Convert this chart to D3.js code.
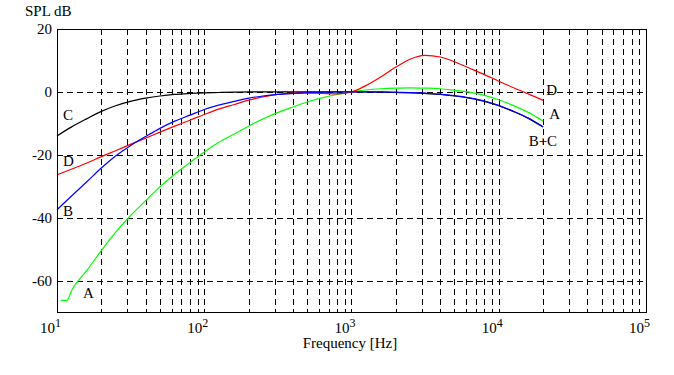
<!DOCTYPE html>
<html>
<head>
<meta charset="utf-8">
<script src="https://cdn.jsdelivr.net/npm/d3@7"></script>
<style>
  body { margin: 0; background: #fff; }
</style>
</head>
<body>
<div id="chart"></div>
<script>
// frequencies (Hz) and weighting curves (dB)
let freqs = [10, 12.5, 16, 20, 25, 31.5, 40, 50, 63, 80, 100, 125, 160, 200, 250, 315, 400, 500, 630, 800,
             1000, 1250, 1600, 2000, 2500, 3150, 4000, 5000, 6300, 8000, 10000, 12500, 16000, 20000];

let freqsA = [10.6, 11.7].concat(freqs.slice(1));
let curveA = [-66.3, -66.3, -63.4, -56.7, -50.5, -44.7, -39.4, -34.6, -30.2, -26.2, -22.5, -19.1, -16.1, -13.4,
              -10.9, -8.6, -6.6, -4.8, -3.2, -1.9, -0.8, 0, 0.6, 1.0, 1.2, 1.3, 1.2, 1.0, 0.5, -0.1, -1.1,
              -2.5, -4.3, -6.6, -9.3];
let curveB = [-37.5, -33.2, -28.5, -24.2, -20.4, -17.1, -14.2, -11.6, -9.3, -7.4, -5.6, -4.2, -3.0, -2.0,
              -1.3, -0.8, -0.5, -0.3, -0.1, 0, 0, 0, 0, -0.1, -0.2, -0.4, -0.7, -1.2, -1.9, -2.9, -4.3,
              -6.1, -8.4, -11.1];
let curveC = [-14.0, -11.2, -8.5, -6.2, -4.4, -3.0, -2.0, -1.3, -0.8, -0.5, -0.3, -0.2, -0.1, 0,
              0, 0, 0, 0, 0, 0, 0, 0, -0.1, -0.2, -0.3, -0.5, -0.8, -1.3, -2.0, -3.0, -4.4,
              -6.2, -8.5, -11.2];
let curveD = [-26.4, -24.6, -22.6, -20.6, -18.7, -16.7, -14.7, -12.8, -10.9, -9.0, -7.2, -5.5, -4.0, -2.6,
              -1.6, -0.8, -0.4, -0.3, -0.5, -0.6, 0, 2.0, 4.9, 7.9, 10.4, 11.6, 11.1, 9.6, 7.6, 5.5, 3.4,
              1.4, -0.7, -2.7];

let yTicks = [20, 0, -20, -40, -60];
let decades = [1, 2, 3, 4, 5];

let width = 674, height = 375;
let margin = { left: 57, right: 646, top: 29, bottom: 312 };

let svg = d3.select("#chart").append("svg")
  .attr("width", width)
  .attr("height", height)
  .attr("font-family", "'Liberation Serif', 'Times New Roman', serif")
  .attr("font-size", 15);

let x = d3.scaleLog().domain([10, 100000]).range([margin.left, margin.right]);
let y = d3.scaleLinear().domain([-70, 20]).range([margin.bottom, margin.top]);

// vertical grid lines: 2..9 within each decade plus the inner decades
let gridX = [];
for (let k = 1; k <= 4; k++) {
  for (let m = 1; m <= 9; m++) {
    let f = m * Math.pow(10, k);
    if (f > 10 && f < 100000) gridX.push(f);
  }
}

svg.append("g").selectAll("line")
  .data(gridX)
  .enter()
    .append("line")
    .attr("x1", d => Math.round(x(d)) + 0.5)
    .attr("x2", d => Math.round(x(d)) + 0.5)
    .attr("y1", margin.top)
    .attr("y2", margin.bottom)
    .attr("stroke", "#000")
    .attr("stroke-dasharray", "6,4")
    .attr("shape-rendering", "crispEdges");

svg.append("g").selectAll("line")
  .data(yTicks.filter(d => d > -70 && d < 20))
  .enter()
    .append("line")
    .attr("x1", margin.left)
    .attr("x2", margin.right)
    .attr("y1", d => Math.round(y(d)) + 0.5)
    .attr("y2", d => Math.round(y(d)) + 0.5)
    .attr("stroke", "#000")
    .attr("stroke-dasharray", "6,4")
    .attr("shape-rendering", "crispEdges");

// curves
let line = d3.line()
  .x(d => x(d[0]))
  .y(d => y(d[1]))
  .curve(d3.curveMonotoneX);

let series = [
  { f: freqs, v: curveC, color: "#000000" },
  { f: freqsA, v: curveA, color: "#00ff00" },
  { f: freqs, v: curveD, color: "#ff0000" },
  { f: freqs, v: curveB, color: "#0000ff" }
];

svg.append("g").selectAll("path")
  .data(series)
  .enter()
    .append("path")
    .attr("d", s => line(s.f.map((f, i) => [f, s.v[i]])))
    .attr("fill", "none")
    .attr("stroke", s => s.color)
    .attr("stroke-width", 1.2);

// frame
svg.append("rect")
  .attr("x", margin.left + 0.5)
  .attr("y", margin.top + 0.5)
  .attr("width", margin.right - margin.left)
  .attr("height", margin.bottom - margin.top)
  .attr("fill", "none")
  .attr("stroke", "#000")
  .attr("shape-rendering", "crispEdges");

// y tick labels
svg.append("g").selectAll("text")
  .data(yTicks)
  .enter()
    .append("text")
    .attr("x", margin.left - 5)
    .attr("y", d => y(d) + 5)
    .attr("text-anchor", "end")
    .text(d => d);

// x tick labels 10^n
let xl = svg.append("g").selectAll("text")
  .data(decades)
  .enter()
    .append("text")
    .attr("x", d => x(Math.pow(10, d)) + 4)
    .attr("y", 333)
    .attr("text-anchor", "end");
xl.append("tspan").text("10");
xl.append("tspan").attr("dy", -6).attr("font-size", 12).text(d => d);

svg.append("text")
  .attr("x", 25)
  .attr("y", 16)
  .text("SPL dB");

svg.append("text")
  .attr("x", 350)
  .attr("y", 348)
  .attr("text-anchor", "middle")
  .text("Frequency [Hz]");

// curve labels
let labels = [
  { t: "C", f: 11, v: -7.5 },
  { t: "D", f: 11, v: -22 },
  { t: "B", f: 11, v: -38 },
  { t: "A", f: 15, v: -64 },
  { t: "D", f: 21000, v: 0.5 },
  { t: "A", f: 22000, v: -7 },
  { t: "B+C", f: 20500, v: -15.5 }
];

svg.append("g").selectAll("text")
  .data(labels)
  .enter()
    .append("text")
    .attr("x", d => x(d.f) - (d.t === "B+C" ? 16 : 0))
    .attr("y", d => y(d.v) + 5)
    .text(d => d.t);
</script>
</body>
</html>
